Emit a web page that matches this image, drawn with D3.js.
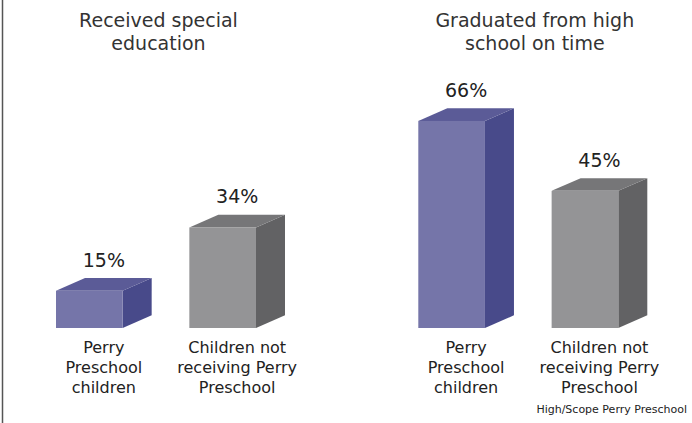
<!DOCTYPE html>
<html>
<head>
<meta charset="utf-8">
<script src="https://cdn.jsdelivr.net/npm/d3@7"></script>
<style>
  body { margin: 0; background: #fff; }
  svg { display: block; font-family: "DejaVu Sans", Verdana, sans-serif; }
</style>
</head>
<body>
<div id="chart"></div>
<script>
// Data
const panels = ["Received special education", "Graduated from high school on time"];
const panelTitles = [["Received special", "education"], ["Graduated from high", "school on time"]];
const groups = ["perry", "control"];
const groupLabels = [["Perry", "Preschool", "children"], ["Children not", "receiving Perry", "Preschool"]];
const values = [[15, 34], [66, 45]]; // percent, per panel: [perry, control]
const source = "High/Scope Perry Preschool";

const width = 692, height = 423;
const baseY = 328;          // floor of the front faces
const depthX = 29, depthY = 12.7;

const colors = {
    perry:   { front: "#7575a9", top: "#5b5b97", side: "#484a8a" },
    control: { front: "#949496", top: "#767678", side: "#626264" }
};

const svg = d3.select("#chart").append("svg")
    .attr("width", width)
    .attr("height", height);

// left frame line
svg.append("line")
    .attr("x1", 2.5).attr("x2", 2.5)
    .attr("y1", 0).attr("y2", height)
    .attr("stroke", "#555")
    .attr("stroke-width", 1.5);

const panelX = d3.scaleBand().domain(panels).range([56, 56 + 362.3 * 2]);
const barX = d3.scaleBand().domain(groups).range([0, 200]).paddingInner(0.5);
const y = d3.scaleLinear().domain([0, 100]).range([baseY + depthY, baseY + depthY - 333]);
const titleShift = [-12, 2];

panels.forEach((p, pi) => {
    const g = svg.append("g").attr("transform", `translate(${panelX(p)},0)`);
    const bw = barX.bandwidth();
    const center = (200 + depthX) / 2 + titleShift[pi];

    const title = g.append("text")
        .attr("text-anchor", "middle")
        .style("font-size", "19px")
        .style("fill", "#333");
    panelTitles[pi].forEach((line, li) => {
        title.append("tspan").attr("x", center).attr("y", 27 + li * 23).text(line);
    });

    groups.forEach((grp, gi) => {
        const v = values[pi][gi];
        const x0 = barX(grp), x1 = x0 + bw;
        const top = y(v);
        const c = colors[grp];

        // side face
        g.append("path")
            .attr("d", `M${x1},${top}L${x1 + depthX},${top - depthY}L${x1 + depthX},${baseY - depthY}L${x1},${baseY}Z`)
            .attr("fill", c.side);
        // top face
        g.append("path")
            .attr("d", `M${x0},${top}L${x0 + depthX},${top - depthY}L${x1 + depthX},${top - depthY}L${x1},${top}Z`)
            .attr("fill", c.top);
        // front face
        g.append("rect")
            .attr("x", x0).attr("y", top)
            .attr("width", bw).attr("height", baseY - top)
            .attr("fill", c.front);

        const mid = x0 + (bw + depthX) / 2;
        g.append("text")
            .attr("x", mid)
            .attr("y", top - 24)
            .attr("text-anchor", "middle")
            .style("font-size", "19px")
            .style("fill", "#222")
            .text(v + "%");

        const lbl = g.append("text")
            .attr("text-anchor", "middle")
            .style("font-size", "16px")
            .style("fill", "#222");
        groupLabels[gi].forEach((line, li) => {
            lbl.append("tspan").attr("x", mid).attr("y", 353 + li * 20).text(line);
        });
    });
});

svg.append("text")
    .attr("x", 687)
    .attr("y", 413)
    .attr("text-anchor", "end")
    .style("font-size", "11px")
    .style("fill", "#222")
    .text(source);
</script>
</body>
</html>
